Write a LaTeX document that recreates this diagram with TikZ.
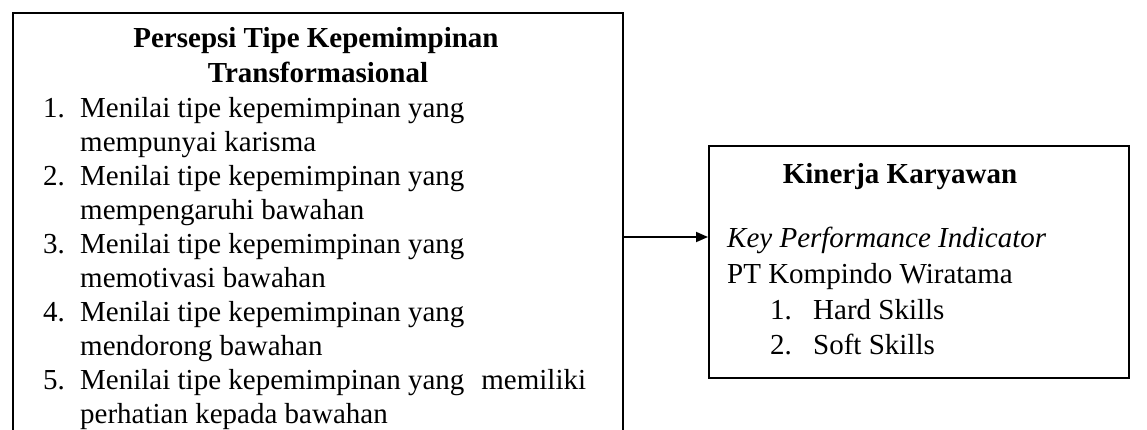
\documentclass[tikz,border=0pt]{standalone}
\usepackage{fontspec}
\setmainfont{Liberation Serif}
\usetikzlibrary{arrows.meta}
\begin{document}
\begin{tikzpicture}[x=1pt,y=-1pt,
  panel/.style={draw, line width=1.6pt, inner sep=0pt, anchor=north west},
  txt/.style={inner sep=0pt, anchor=base west, font=\fontsize{29}{34}\selectfont},
  ttl/.style={inner sep=0pt, anchor=base, font=\fontsize{29}{34}\selectfont\bfseries},
  link/.style={line width=1.8pt, -{Triangle[length=12pt,width=10pt]}}]
\clip (0,0) rectangle (1147,429);
% left panel: indicators of transformational leadership
\node[panel, minimum width=610pt, minimum height=460pt] (lbox) at (12,12) {};
\node[ttl] (lt1) at (316,47) {Persepsi Tipe Kepemimpinan};
\node[ttl] (lt2) at (318,82) {Transformasional};
\node[txt] (n1) at (43,117) {1.};
\node[txt] (a1) at (80,117) {Menilai tipe kepemimpinan yang};
\node[txt] (b1) at (80,151) {mempunyai karisma};
\node[txt] (n2) at (43,185) {2.};
\node[txt] (a2) at (80,185) {Menilai tipe kepemimpinan yang};
\node[txt] (b2) at (80,219) {mempengaruhi bawahan};
\node[txt] (n3) at (43,253) {3.};
\node[txt] (a3) at (80,253) {Menilai tipe kepemimpinan yang};
\node[txt] (b3) at (80,287) {memotivasi bawahan};
\node[txt] (n4) at (43,321) {4.};
\node[txt] (a4) at (80,321) {Menilai tipe kepemimpinan yang};
\node[txt] (b4) at (80,355) {mendorong bawahan};
\node[txt] (n5) at (43,389) {5.};
\node[txt] (a5) at (80,389) {Menilai tipe kepemimpinan yang\hspace{17pt}memiliki};
\node[txt] (b5) at (80,423) {perhatian kepada bawahan};
% right panel: employee performance
\node[panel, minimum width=420pt, minimum height=232pt] (rbox) at (708,145) {};
\node[ttl] (rt) at (900,183) {Kinerja Karyawan};
\node[txt] (kpi) at (727,247) {\itshape Key Performance Indicator};
\node[txt] (pt) at (727,283) {PT Kompindo Wiratama};
\node[txt] (m1) at (770,319) {1.};
\node[txt] (s1) at (813,319) {Hard Skills};
\node[txt] (m2) at (770,354) {2.};
\node[txt] (s2) at (813,354) {Soft Skills};
% influence arrow
\coordinate (ay) at (0,237);
\draw[link] (lbox.east |- ay) -- (rbox.west |- ay);
\end{tikzpicture}
\end{document}
